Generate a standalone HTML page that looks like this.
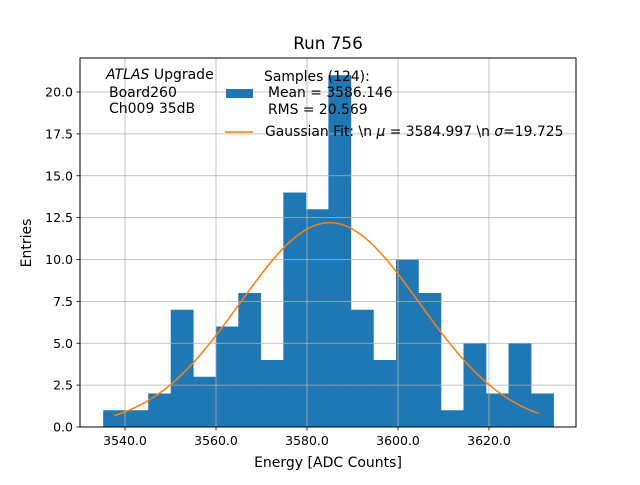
<!DOCTYPE html>
<html><head><meta charset="utf-8"><style>
body{margin:0;background:#fff}
svg text{font-family:"DejaVu Sans","Liberation Sans",sans-serif;fill:#000}
</style></head><body>
<svg id="chart" width="640" height="480" xmlns="http://www.w3.org/2000/svg">
<rect x="0" y="0" width="640" height="480" fill="#fff"/>
<g id="bars"></g>
<g id="grid"></g>
<g id="fit"></g>
<rect x="80" y="58" width="496" height="369" fill="none" stroke="#000" stroke-width="1"/>
<g id="ticks"></g>
<text x="328" y="49" font-size="16.8" text-anchor="middle">Run 756</text>
<text x="328" y="467" font-size="14" text-anchor="middle">Energy [ADC Counts]</text>
<text transform="translate(31,243) rotate(-90)" font-size="14" text-anchor="middle">Entries</text>
<g font-size="14">
<text x="106" y="79"><tspan font-style="italic">ATLAS</tspan> Upgrade</text>
<text x="109" y="97">Board260</text>
<text x="109" y="113">Ch009 35dB</text>
</g>
<g font-size="13.9">
<rect x="226" y="89" width="27" height="9" fill="#1f77b4"/>
<text x="264" y="81">Samples (124):</text>
<text x="268" y="97">Mean = 3586.146</text>
<text x="268" y="114">RMS = 20.569</text>
<line x1="225" y1="132" x2="253" y2="132" stroke="#ff7f0e" stroke-width="1.5"/>
<text x="265" y="136">Gaussian Fit: \n <tspan font-style="italic">μ</tspan> = 3584.997 \n <tspan font-style="italic">σ</tspan>=19.725</text>
</g>
</svg>
<script>
const binEdgeStart = 3535.2;
const binWidth = 4.95;
const counts = [1,1,2,7,3,6,8,4,14,13,21,7,4,10,8,1,5,2,5,2];
const xTicks = [3540,3560,3580,3600,3620];
const yTicks = [0,2.5,5,7.5,10,12.5,15,17.5,20];
const fitMu = 3584.997, fitSigma = 19.725, fitAmp = 12.2;
const fitRange = [3537.6, 3631.0];

const X = v => 125 + (v-3540)*4.55;
const Y = v => 427 - v*(335/20);
const NS = 'http://www.w3.org/2000/svg';
function mk(tag, attrs, parent){const e=document.createElementNS(NS,tag);for(const k in attrs)e.setAttribute(k,attrs[k]);parent.appendChild(e);return e;}

const bars = document.getElementById('bars');
counts.forEach((c,i)=>{
  const x0 = X(binEdgeStart+i*binWidth), x1 = X(binEdgeStart+(i+1)*binWidth);
  const r = mk('rect',{x:x0,y:Y(c),width:x1-x0+0.3,height:Y(0)-Y(c),fill:'#1f77b4'},bars);
  
  
});
const grid = document.getElementById('grid');
const ticks = document.getElementById('ticks');
xTicks.forEach(t=>{
  const l = mk('line',{x1:X(t),x2:X(t),y1:58,y2:427,stroke:'#b0b0b0','stroke-width':0.8},grid);
  
  
  mk('line',{x1:X(t),x2:X(t),y1:427,y2:430.5,stroke:'#000','stroke-width':0.8},ticks);
  const tx = mk('text',{x:X(t),y:445,'font-size':12.5,'text-anchor':'middle'},ticks);
  tx.textContent = t.toFixed(1);
  
  
});
yTicks.forEach(t=>{
  const l = mk('line',{x1:80,x2:576,y1:Y(t),y2:Y(t),stroke:'#b0b0b0','stroke-width':0.8},grid);
  
  
  mk('line',{x1:76.5,x2:80,y1:Y(t),y2:Y(t),stroke:'#000','stroke-width':0.8},ticks);
  const tx = mk('text',{x:73,y:Y(t)+4.5,'font-size':12.5,'text-anchor':'end'},ticks);
  tx.textContent = t.toFixed(1);
  
  
});
let d='';
for(let i=0;i<=100;i++){
  const v = fitRange[0]+(fitRange[1]-fitRange[0])*i/100;
  const y = fitAmp*Math.exp(-0.5*Math.pow((v-fitMu)/fitSigma,2));
  d += (i?'L':'M')+X(v).toFixed(2)+','+Y(y).toFixed(2);
}
const p = mk('path',{d:d,fill:'none',stroke:'#ff7f0e','stroke-width':1.5},document.getElementById('fit'));


</script>
</body></html>
